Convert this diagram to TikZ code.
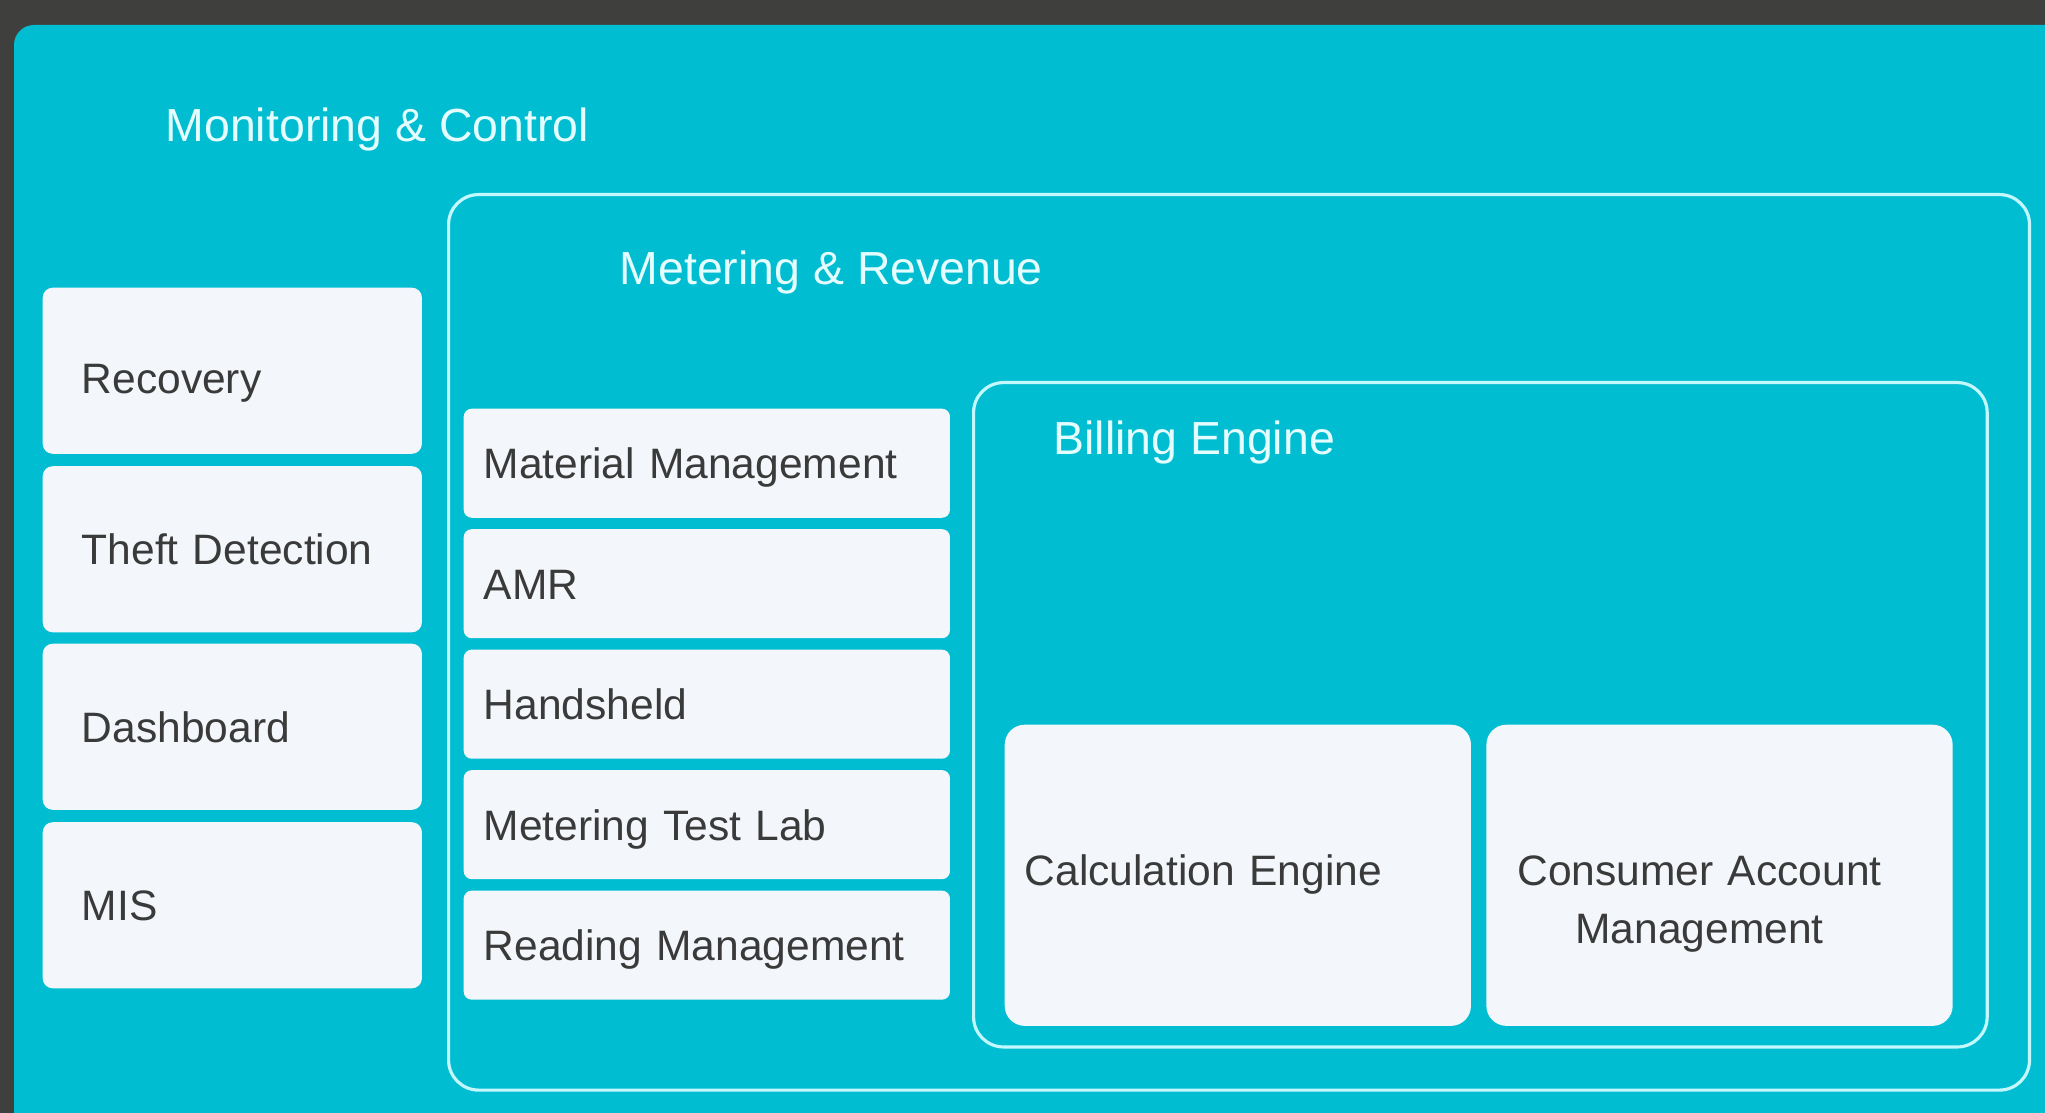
\documentclass[tikz,border=0pt]{standalone}
\usepackage{fontspec}
\setmainfont{Liberation Sans}
\usetikzlibrary{positioning}

\definecolor{darkbg}{HTML}{3F403D}
\definecolor{panelteal}{HTML}{00BDD1}
\definecolor{boxwhite}{HTML}{F3F6FB}
\definecolor{framecyan}{HTML}{C4F8FF}
\definecolor{titlecyan}{HTML}{E4FDFF}
\definecolor{boxgray}{HTML}{3A3A3A}

\begin{document}
\begin{tikzpicture}[x=0.01cm, y=-0.01cm, node distance=0.1cm]
    \tikzstyle{group} = [draw=framecyan, line width=0.9pt, rounded corners=0.3cm,
	anchor=north west, inner sep=0pt]
    \tikzstyle{grouptitle} = [text=titlecyan, font=\fontsize{13.2}{16}\selectfont,
	anchor=base west, inner sep=0pt]
    \tikzstyle{module} = [fill=boxwhite, text=boxgray, font=\fontsize{12.1}{16.5}\selectfont,
	align=left, inner ysep=0pt, text height=0.31cm, text depth=0pt]
    \tikzstyle{leftmod} = [module, rounded corners=0.1cm, inner xsep=0.39cm,
	text width=3.01cm, minimum height=1.66cm]
    \tikzstyle{midmod} = [module, rounded corners=0.08cm, inner xsep=0.2cm,
	text width=4.46cm, minimum height=1.09cm]
    \tikzstyle{billmod} = [module, rounded corners=0.2cm, inner xsep=0.2cm,
	text width=4.26cm, minimum height=3.01cm, text height=0.21cm]

	% background and outer panel
	\useasboundingbox (0,0) rectangle (2045,1113);
	\fill[darkbg] (0,0) rectangle (2045,1113);
	\fill[panelteal, rounded corners=0.2cm] (14,25) rectangle (2100,1170);

	\node[grouptitle] (montitle) at (165,142) {Monitoring \& Control};

	% left column
	\node[leftmod, anchor=north west, text height=0.45cm] (recovery) at (42,287) {Recovery};
	\node[leftmod, below=0.11cm of recovery] (theft) {Theft Detection};
	\node[leftmod, below=0.10cm of theft] (dash) {Dashboard};
	\node[leftmod, below=0.11cm of dash] (mis) {MIS};

	% metering & revenue
	\node[group, minimum width=15.8cm, minimum height=8.95cm] (metering) at (447,193) {};
	\node[grouptitle] (metertitle) at (619,285) {Metering \& Revenue};

	\node[midmod, anchor=north west] (material) at (463,408) {Material Management};
	\node[midmod, below=of material] (amr) {AMR};
	\node[midmod, below=of amr] (handsheld) {Handsheld};
	\node[midmod, below=of handsheld] (testlab) {Metering Test Lab};
	\node[midmod, below=of testlab] (reading) {Reading Management};

	% billing engine
	\node[group, minimum width=10.13cm, minimum height=6.64cm] (billing) at (972,381) {};
	\node[grouptitle] (billtitle) at (1053,455) {Billing Engine};

	\node[billmod, anchor=north west] (calc) at (1004,724) {Calculation Engine};
	\node[billmod, align=center, right=0.14cm of calc] (consumer)
	    {\begin{tabular}[t]{@{}c@{\hspace{0.4cm}}}Consumer Account\\Management\end{tabular}};
\end{tikzpicture}
\end{document}
